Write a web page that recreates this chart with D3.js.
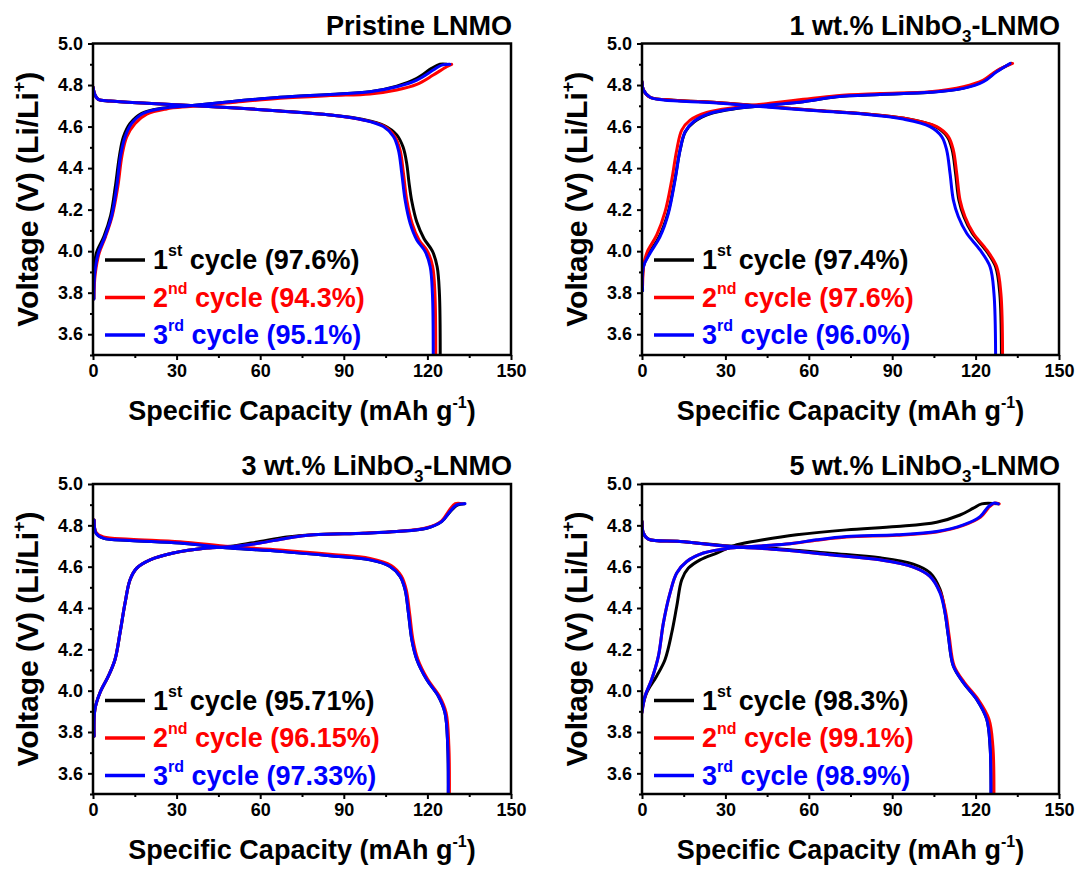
<!DOCTYPE html>
<html>
<head>
<meta charset="utf-8">
<script src="https://cdn.jsdelivr.net/npm/d3@7"></script>
<style>
  body { margin: 0; background: #fff; }
  svg text { font-family: "Liberation Sans", Arial, Helvetica, sans-serif; font-weight: bold; }
</style>
</head>
<body>
<svg id="chart" width="1080" height="872"></svg>
<script>
// ---- Axis tick values ----
const xTicks = [0, 30, 60, 90, 120, 150];
const xMinorTicks = [15, 45, 75, 105, 135];
const yTicks = [3.6, 3.8, 4.0, 4.2, 4.4, 4.6, 4.8, 5.0];
const yMinorTicks = [3.5, 3.7, 3.9, 4.1, 4.3, 4.5, 4.7, 4.9];

// ---- Legend text ----
const cycleOrdinals = [["1", "st"], ["2", "nd"], ["3", "rd"]];
const pristineEff = ["97.6%", "94.3%", "95.1%"];
const nb1Eff = ["97.4%", "97.6%", "96.0%"];
const nb3Eff = ["95.71%", "96.15%", "97.33%"];
const nb5Eff = ["98.3%", "99.1%", "98.9%"];

// ---- Pristine LNMO: [capacity (mAh/g), voltage (V)] ----
const pristineCharge1 = [[0.3,3.77],[0.4,3.89],[1.2,3.99],[3.9,4.07],[6.3,4.17],[8.0,4.31],[9.5,4.46],[10.9,4.55],[13.3,4.615],[17.5,4.664],[24.6,4.688],[34.8,4.70],[49.2,4.72],[67.1,4.741],[85.1,4.755],[99.4,4.768],[109,4.795],[116.2,4.832],[121.5,4.88],[124.5,4.90],[126.9,4.90]];
const pristineCharge2 = [[0.3,3.77],[0.8,3.89],[2.2,3.99],[4.5,4.07],[6.9,4.17],[8.9,4.31],[10.4,4.46],[12.1,4.55],[15.1,4.615],[19.3,4.66],[26.4,4.685],[34.8,4.697],[49.2,4.715],[67.1,4.736],[85.1,4.749],[99.4,4.757],[109,4.776],[116.2,4.803],[122.1,4.848],[126.9,4.888],[128.7,4.90]];
const pristineCharge3 = [[0.3,3.77],[0.6,3.89],[1.9,3.99],[4.3,4.07],[6.7,4.17],[8.5,4.31],[9.9,4.46],[11.5,4.55],[13.9,4.615],[18.1,4.664],[25.2,4.688],[34.8,4.70],[49.2,4.72],[67.1,4.741],[85.1,4.755],[99.4,4.768],[109,4.792],[116.2,4.824],[122.1,4.872],[125.1,4.896],[128.1,4.90]];
const pristineDischarge1 = [[0,4.79],[0.7,4.752],[1.9,4.731],[6.1,4.723],[19.3,4.712],[43.2,4.696],[67.1,4.675],[85.1,4.656],[97.0,4.634],[104.5,4.605],[109.0,4.56],[111.3,4.50],[112.6,4.42],[113.4,4.33],[114.4,4.24],[116.2,4.14],[118.8,4.06],[121.8,4.0],[123.5,3.925],[124.3,3.80],[124.6,3.5]];
const pristineDischarge2 = [[0,4.79],[0.7,4.752],[1.9,4.731],[6.1,4.723],[19.3,4.712],[43.2,4.696],[67.1,4.675],[85.1,4.656],[97.0,4.632],[104.4,4.602],[108.3,4.552],[110.2,4.487],[111.4,4.375],[112.6,4.246],[114.5,4.134],[117.0,4.054],[120.1,3.998],[121.9,3.925],[122.7,3.797],[123.0,3.5]];
const pristineDischarge3 = [[0,4.79],[0.7,4.752],[1.9,4.731],[6.1,4.723],[19.3,4.712],[43.2,4.696],[67.1,4.675],[85.1,4.656],[97.0,4.632],[104.2,4.60],[107.8,4.552],[109.6,4.487],[110.8,4.375],[112.0,4.246],[113.8,4.134],[116.2,4.054],[119.2,3.998],[121.0,3.925],[121.8,3.797],[122.1,3.5]];

// ---- 1 wt.% LiNbO3-LNMO ----
const nb1Charge1 = [[0.2,3.81],[0.6,3.93],[2.6,3.99],[6.2,4.07],[9.3,4.182],[11.8,4.343],[13.7,4.487],[15.6,4.575],[18.8,4.623],[25.0,4.664],[34.5,4.688],[46.0,4.704],[58.0,4.72],[70.0,4.744],[85.6,4.755],[103.6,4.765],[115.6,4.786],[122.8,4.82],[127.6,4.866],[132.8,4.904]];
const nb1Charge2 = [[0.2,3.83],[0.7,3.94],[1.9,3.997],[5.3,4.078],[8.3,4.19],[10.7,4.343],[12.5,4.487],[14.3,4.583],[17.3,4.631],[23.3,4.668],[34.1,4.693],[46.0,4.712],[58.0,4.731],[70.0,4.749],[85.6,4.759],[103.6,4.768],[115.6,4.792],[122.8,4.824],[127.6,4.869],[133.3,4.904]];
const nb1Charge3 = [[0.2,3.81],[0.5,3.925],[2.9,3.99],[6.5,4.07],[9.5,4.182],[11.9,4.343],[13.7,4.487],[15.5,4.575],[18.5,4.623],[24.5,4.664],[34.1,4.688],[46.0,4.704],[58.0,4.72],[70.0,4.744],[85.6,4.755],[103.6,4.765],[115.6,4.784],[122.8,4.816],[127.6,4.864],[132.4,4.904]];
const nb1Discharge1 = [[0,4.816],[0.5,4.776],[2.9,4.741],[7.7,4.73],[25.7,4.717],[43.6,4.698],[61.6,4.679],[79.6,4.662],[94.3,4.64],[105.6,4.60],[109.8,4.552],[111.6,4.487],[112.8,4.375],[114.0,4.246],[115.8,4.166],[118.8,4.086],[123.6,4.006],[127.2,3.925],[128.7,3.797],[129.3,3.5]];
const nb1Discharge2 = [[0,4.816],[0.5,4.776],[2.9,4.741],[7.7,4.73],[25.7,4.717],[43.6,4.698],[61.6,4.679],[79.6,4.662],[94.5,4.64],[106.0,4.60],[110.2,4.552],[112.0,4.487],[113.2,4.375],[114.4,4.246],[116.2,4.166],[119.2,4.086],[124.0,4.006],[127.6,3.925],[129.1,3.797],[129.7,3.5]];
const nb1Discharge3 = [[0,4.816],[0.5,4.776],[2.9,4.741],[7.7,4.728],[25.7,4.715],[43.6,4.696],[61.6,4.677],[79.6,4.66],[94.0,4.636],[103.6,4.60],[107.8,4.552],[109.6,4.487],[110.8,4.375],[112.0,4.246],[113.8,4.166],[116.8,4.086],[121.6,4.006],[125.2,3.925],[126.6,3.797],[127.2,3.5]];

// ---- 3 wt.% LiNbO3-LNMO ----
const nb3Charge1 = [[0.4,3.78],[0.7,3.91],[2.5,3.99],[5.5,4.07],[7.9,4.151],[9.7,4.28],[11.5,4.424],[13.3,4.537],[15.7,4.593],[20.5,4.633],[28.8,4.666],[40.8,4.69],[50.4,4.70],[59.9,4.722],[69.5,4.744],[79.1,4.755],[97.0,4.762],[109.0,4.77],[119.7,4.786],[125.1,4.818],[128.1,4.865],[130.7,4.897],[133.3,4.905]];
const nb3Charge2 = [[0.4,3.78],[0.7,3.91],[2.5,3.99],[5.5,4.07],[7.9,4.151],[9.7,4.28],[11.5,4.424],[13.3,4.537],[15.7,4.593],[20.5,4.633],[28.8,4.666],[40.8,4.69],[50.4,4.698],[59.9,4.714],[69.5,4.738],[79.1,4.754],[97.0,4.762],[109.0,4.77],[119.7,4.788],[125.1,4.822],[127.8,4.872],[130.0,4.905],[132.5,4.905]];
const nb3Charge3 = [[0.4,3.78],[0.7,3.91],[2.5,3.99],[5.5,4.07],[7.9,4.151],[9.7,4.28],[11.5,4.424],[13.3,4.537],[15.7,4.593],[20.5,4.633],[28.8,4.666],[40.8,4.69],[50.4,4.698],[59.9,4.714],[69.5,4.738],[79.1,4.754],[97.0,4.762],[109.0,4.77],[119.7,4.786],[125.1,4.818],[128.1,4.867],[130.5,4.899],[133.5,4.905]];
const nb3Discharge1 = [[0.4,4.826],[1.1,4.762],[3.7,4.738],[13.3,4.727],[31.2,4.714],[49.2,4.69],[67.1,4.674],[85.0,4.653],[99.4,4.633],[106.6,4.601],[110.2,4.553],[112.0,4.489],[113.2,4.376],[114.4,4.248],[116.2,4.151],[119.7,4.055],[123.9,3.974],[126.3,3.894],[127.3,3.733],[127.5,3.5]];
const nb3Discharge2 = [[0.4,4.826],[1.1,4.766],[3.7,4.744],[13.3,4.733],[31.2,4.72],[49.2,4.697],[67.1,4.681],[85.0,4.66],[99.4,4.64],[107.0,4.606],[110.6,4.556],[112.4,4.489],[113.6,4.376],[114.8,4.248],[116.6,4.151],[120.1,4.055],[124.3,3.974],[126.7,3.894],[127.7,3.733],[127.9,3.5]];
const nb3Discharge3 = [[0.4,4.826],[1.1,4.762],[3.7,4.738],[13.3,4.727],[31.2,4.714],[49.2,4.69],[67.1,4.674],[85.0,4.653],[99.4,4.633],[106.6,4.601],[110.2,4.553],[112.0,4.489],[113.2,4.376],[114.4,4.248],[116.2,4.151],[119.7,4.055],[123.9,3.974],[126.3,3.894],[127.3,3.733],[127.5,3.5]];

// ---- 5 wt.% LiNbO3-LNMO ----
const nb5Charge1 = [[0,3.91],[1.7,3.99],[5.3,4.071],[8.3,4.151],[10.7,4.28],[12.5,4.408],[14.3,4.537],[16.7,4.593],[20.9,4.633],[26.9,4.666],[34.1,4.706],[43.6,4.73],[55.6,4.754],[73.6,4.778],[91.6,4.794],[106.0,4.815],[114.4,4.85],[119.2,4.883],[122.2,4.904],[128.2,4.904]];
const nb5Charge2 = [[0,3.894],[1.1,3.974],[3.5,4.055],[5.9,4.167],[7.7,4.328],[10.1,4.473],[12.5,4.569],[16.1,4.625],[22.1,4.666],[31.7,4.69],[43.6,4.701],[53.2,4.711],[62.8,4.728],[73.6,4.744],[91.6,4.752],[106.0,4.768],[115.6,4.80],[121.8,4.84],[125.0,4.89],[126.8,4.907],[128.5,4.904]];
const nb5Charge3 = [[0,3.894],[1.1,3.974],[3.5,4.055],[5.9,4.167],[7.7,4.328],[10.1,4.473],[12.5,4.569],[16.1,4.625],[22.1,4.666],[31.7,4.69],[43.6,4.701],[53.2,4.711],[62.8,4.73],[73.6,4.746],[91.6,4.754],[106.0,4.77],[115.6,4.802],[121.6,4.842],[124.6,4.891],[126.4,4.907],[128.2,4.904]];
const nb5Discharge1 = [[0,4.818],[0.5,4.762],[2.3,4.733],[13.7,4.722],[31.7,4.70],[49.6,4.686],[67.6,4.665],[85.6,4.643],[97.6,4.612],[103.6,4.57],[107.2,4.49],[109.0,4.38],[110.2,4.264],[112.0,4.119],[115.6,4.039],[120.4,3.958],[124.0,3.862],[125.2,3.733],[125.6,3.5]];
const nb5Discharge2 = [[0,4.818],[0.5,4.762],[2.3,4.733],[13.7,4.722],[31.7,4.698],[49.6,4.682],[67.6,4.658],[85.6,4.633],[97.6,4.598],[103.6,4.553],[107.4,4.473],[109.3,4.376],[110.5,4.264],[112.3,4.119],[116.0,4.039],[120.9,3.958],[124.8,3.862],[126.2,3.733],[126.6,3.5]];
const nb5Discharge3 = [[0,4.818],[0.5,4.762],[2.3,4.733],[13.7,4.722],[31.7,4.698],[49.6,4.682],[67.6,4.658],[85.6,4.633],[97.6,4.598],[103.6,4.553],[107.2,4.473],[109.0,4.376],[110.2,4.264],[112.0,4.119],[115.6,4.039],[120.4,3.958],[124.0,3.862],[125.2,3.733],[125.5,3.5]];

// ---- Panel definitions (data) and plot boxes (layout) ----
const panelData = [
  { title: ["Pristine LNMO"], eff: pristineEff,
    charge: [pristineCharge1, pristineCharge2, pristineCharge3],
    discharge: [pristineDischarge1, pristineDischarge2, pristineDischarge3] },
  { title: ["1 wt.% LiNbO", "3", "-LNMO"], eff: nb1Eff,
    charge: [nb1Charge1, nb1Charge2, nb1Charge3],
    discharge: [nb1Discharge1, nb1Discharge2, nb1Discharge3] },
  { title: ["3 wt.% LiNbO", "3", "-LNMO"], eff: nb3Eff,
    charge: [nb3Charge1, nb3Charge2, nb3Charge3],
    discharge: [nb3Discharge1, nb3Discharge2, nb3Discharge3] },
  { title: ["5 wt.% LiNbO", "3", "-LNMO"], eff: nb5Eff,
    charge: [nb5Charge1, nb5Charge2, nb5Charge3],
    discharge: [nb5Discharge1, nb5Discharge2, nb5Discharge3] }
];
const plotBoxes = [
  { x0: 93,  x1: 511,  y0: 43.5, y1: 355 },
  { x0: 642, x1: 1059, y0: 43.5, y1: 355 },
  { x0: 93,  x1: 511,  y0: 484,  y1: 794 },
  { x0: 642, x1: 1059, y0: 484,  y1: 794 }
];
const cycleColors = ["#000000", "#ff0000", "#0000ff"];

const svg = d3.select("#chart");

panelData.forEach((p, i) => {
  const b = plotBoxes[i];
  const x = d3.scaleLinear().domain([0, 150]).range([b.x0, b.x1]);
  const y = d3.scaleLinear().domain([3.5, 5.0]).range([b.y1, b.y0]);
  const g = svg.append("g");

  // clip region for the curves
  const clipId = "clip" + i;
  svg.append("defs").append("clipPath").attr("id", clipId)
    .append("rect").attr("x", b.x0).attr("y", b.y0)
    .attr("width", b.x1 - b.x0).attr("height", b.y1 - b.y0);

  // curves: cycle 1, 2, 3 (blue drawn last, on top)
  const line = d3.line().x(d => x(d[0])).y(d => y(d[1]))
    .curve(d3.curveCatmullRom.alpha(0.5));
  const curves = g.append("g").attr("clip-path", `url(#${clipId})`);
  [0, 1, 2].forEach(c => {
    [p.charge[c], p.discharge[c]].forEach(series => {
      curves.append("path").attr("d", line(series))
        .attr("fill", "none").attr("stroke", cycleColors[c])
        .attr("stroke-width", 3).attr("stroke-linejoin", "round")
        .attr("stroke-linecap", "round");
    });
  });

  // axes: major + minor ticks
  const fmtX = d3.format("d"), fmtY = d3.format(".1f");
  g.append("g").attr("transform", `translate(0,${b.y1})`)
    .call(d3.axisBottom(x).tickValues(xTicks).tickSize(5).tickPadding(4).tickFormat(fmtX));
  g.append("g").attr("transform", `translate(0,${b.y1})`)
    .call(d3.axisBottom(x).tickValues(xMinorTicks).tickSize(3).tickFormat(""));
  g.append("g").attr("transform", `translate(${b.x0},0)`)
    .call(d3.axisLeft(y).tickValues(yTicks).tickSize(5).tickPadding(5).tickFormat(fmtY));
  g.append("g").attr("transform", `translate(${b.x0},0)`)
    .call(d3.axisLeft(y).tickValues(yMinorTicks).tickSize(3).tickFormat(""));
  g.selectAll(".domain").remove();
  g.selectAll(".tick line").attr("stroke", "#000").attr("stroke-width", 2);
  g.selectAll(".tick text").attr("fill", "#000")
    .style("font-size", "18px").style("font-weight", "bold")
    .style("font-family", '"Liberation Sans", Arial, sans-serif');

  // frame
  g.append("rect").attr("x", b.x0).attr("y", b.y0)
    .attr("width", b.x1 - b.x0).attr("height", b.y1 - b.y0)
    .attr("fill", "none").attr("stroke", "#000").attr("stroke-width", 2.5);

  // panel title (right aligned)
  const t = g.append("text").attr("x", b.x1 + 1).attr("y", b.y0 - 9)
    .attr("text-anchor", "end").style("font-size", "27px").attr("fill", "#000");
  t.append("tspan").text(p.title[0]);
  if (p.title.length > 1) {
    t.append("tspan").text(p.title[1]).style("font-size", "17px").attr("dy", 7);
    t.append("tspan").text(p.title[2]).attr("dy", -7);
  }

  // x-axis title
  const xt = g.append("text").attr("x", (b.x0 + b.x1) / 2).attr("y", b.y1 + 65)
    .attr("text-anchor", "middle").style("font-size", "27px").attr("fill", "#000");
  xt.append("tspan").text("Specific Capacity (mAh g");
  xt.append("tspan").text("-1").style("font-size", "16px").attr("dy", -12);
  xt.append("tspan").text(")").attr("dy", 12);

  // y-axis title
  const yt = g.append("text")
    .attr("transform", `translate(${b.x0 - 55},${(b.y0 + b.y1) / 2}) rotate(-90)`)
    .attr("text-anchor", "middle").style("font-size", "30px").attr("fill", "#000");
  yt.append("tspan").text("Voltage (V) (Li/Li");
  yt.append("tspan").text("+").style("font-size", "18px").attr("dy", -13);
  yt.append("tspan").text(")").attr("dy", 13);

  // legend
  p.eff.forEach((e, c) => {
    const ly = b.y0 + 216.5 + 37.5 * c;
    g.append("line").attr("x1", b.x0 + 12).attr("x2", b.x0 + 52)
      .attr("y1", ly).attr("y2", ly)
      .attr("stroke", cycleColors[c]).attr("stroke-width", 3.5);
    const lt = g.append("text").attr("x", b.x0 + 60).attr("y", ly + 9)
      .style("font-size", "27px").attr("fill", cycleColors[c]);
    lt.append("tspan").text(cycleOrdinals[c][0]);
    lt.append("tspan").text(cycleOrdinals[c][1]).style("font-size", "16px").attr("dy", -13);
    lt.append("tspan").text(" cycle (" + e + ")").attr("dy", 13);
  });
});
</script>
</body>
</html>
